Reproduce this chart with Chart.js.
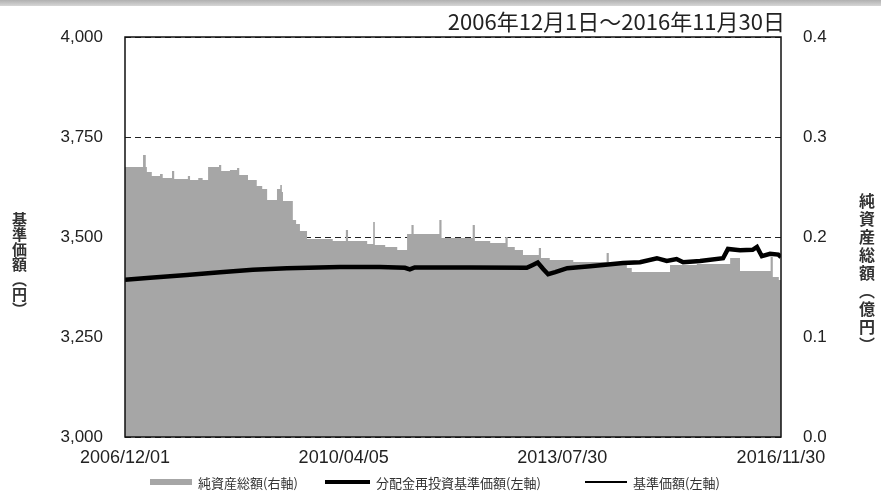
<!DOCTYPE html>
<html>
<head>
<meta charset="utf-8">
<script src="https://cdn.jsdelivr.net/npm/chart.js@4/dist/chart.umd.min.js"></script>
<style>
html,body{margin:0;padding:0;background:#fff;}
#wrap{position:relative;width:881px;height:494px;overflow:hidden;background:#fff;}
#topband{position:absolute;left:0;top:0;width:881px;height:6px;background:linear-gradient(#b0b0b0,#d6d6d6);}
#c{position:absolute;left:0;top:0;}
.vt{position:absolute;writing-mode:vertical-rl;font-family:"Noto Sans CJK JP";font-weight:bold;color:#333;line-height:1;}
#ttl{position:absolute;right:96px;top:4px;font-family:"Noto Sans CJK JP";font-size:22px;color:#222;white-space:nowrap;}
.lg{position:absolute;top:474px;font-family:"Noto Sans CJK JP";font-size:13px;color:#333;white-space:nowrap;display:flex;align-items:center;height:16px;}
.sw{display:inline-block;width:42px;margin-right:6px;}
</style>
</head>
<body>
<div id="wrap">
  <div id="topband"></div>
  <canvas id="c" width="881" height="494"></canvas>
  <div id="ttl">2006年12月1日～2016年11月30日</div>
  <div class="vt" style="left:12px;top:212px;font-size:15px;">基準価額（円）</div>
  <div class="vt" style="left:859px;top:193px;font-size:16px;letter-spacing:2px;">純資産総額（億円）</div>
  <div class="lg" style="left:150px;"><span class="sw" style="height:6px;background:#a6a6a6;"></span>純資産総額(右軸)</div>
  <div class="lg" style="left:325px;"><span class="sw" style="height:4px;background:#000;width:45px;"></span>分配金再投資基準価額(左軸)</div>
  <div class="lg" style="left:585px;"><span class="sw" style="height:1.5px;background:#000;"></span>基準価額(左軸)</div>
</div>
<script>
// x positions are months since 2006/12/01
const axisMonths = [0, 40, 80, 120];
const axisDates = ['2006/12/01', '2010/04/05', '2013/07/30', '2016/11/30'];
const leftTicks = [3000, 3250, 3500, 3750, 4000];
const rightTicks = [0, 0.1, 0.2, 0.3, 0.4];

// 純資産総額（億円） – step breakpoints
const assetMonths = [0, 3.3, 3.8, 4.0, 4.9, 6.4, 6.9, 8.6, 9.0, 11.5, 11.9, 13.4, 14.2, 15.2, 17.2, 17.6, 19.2, 20.5, 20.9, 22.5,
  24.1, 25.1, 26.0, 27.8, 28.4, 28.7, 28.9, 30.7, 31.3, 32.0, 33.3, 38.0, 40.4, 40.8, 44.3, 45.4, 45.7, 47.6, 49.8, 51.6,
  52.4, 52.8, 57.5, 57.9, 63.6, 64.0, 66.8, 69.6, 70.0, 71.3, 72.8, 75.7, 76.1, 77.7, 82.0, 88.1, 88.5, 91.8, 92.7, 99.7,
  104.6, 110.7, 112.5, 118.1, 118.5, 119.6, 120];
const assetValues = [0.270, 0.282, 0.270, 0.265, 0.261, 0.263, 0.259, 0.266, 0.258, 0.261, 0.257, 0.259, 0.257, 0.270, 0.272, 0.266, 0.267, 0.269, 0.262, 0.257,
  0.251, 0.248, 0.237, 0.248, 0.252, 0.245, 0.236, 0.217, 0.213, 0.206, 0.198, 0.196, 0.207, 0.196, 0.193, 0.215, 0.192, 0.190, 0.187, 0.203,
  0.212, 0.203, 0.217, 0.199, 0.212, 0.196, 0.194, 0.200, 0.190, 0.187, 0.182, 0.189, 0.179, 0.177, 0.175, 0.184, 0.173, 0.169, 0.165, 0.172,
  0.173, 0.179, 0.166, 0.180, 0.160, 0.157, 0.157];

// 基準価額 / 分配金再投資基準価額（円）
const navMonths = [0, 4.6, 11.3, 17.4, 23.4, 29.6, 39.3, 46.6, 51.2, 52.1, 53.0, 63.1, 73.5, 74.6, 75.5, 76.5, 77.4, 78.7, 80.9, 85.1,
  91.1, 94.2, 97.3, 99.1, 100.9, 102.1, 105.2, 109.4, 110.3, 112.5, 114.8, 115.6, 116.5, 118.0, 119.5, 120];
const reinvestNav = [3393, 3398, 3405, 3412, 3418, 3422, 3425, 3425, 3423, 3419, 3424, 3424, 3423, 3430, 3436, 3420, 3407, 3412, 3422, 3427,
  3435, 3437, 3447, 3440, 3445, 3437, 3440, 3447, 3470, 3467, 3468, 3475, 3452, 3458, 3456, 3450];
const nav = [3393, 3398, 3405, 3412, 3418, 3422, 3425, 3425, 3423, 3419, 3424, 3424, 3423, 3430, 3436, 3420, 3407, 3412, 3422, 3427,
  3435, 3437, 3447, 3440, 3445, 3437, 3440, 3447, 3470, 3467, 3468, 3475, 3452, 3458, 3456, 3450];

const pts = (xs, ys) => xs.map((x, i) => ({x: x, y: ys[i]}));

const frame = {
  id: 'frame',
  afterDatasetsDraw(chart) {
    const a = chart.chartArea, ctx = chart.ctx;
    ctx.save();
    ctx.strokeStyle = '#111';
    ctx.lineWidth = 1.5;
    ctx.strokeRect(a.left, a.top, a.right - a.left, a.bottom - a.top);
    ctx.restore();
  }
};

const tickFont = {family: '"Liberation Sans", Arial, sans-serif', size: 17};

new Chart(document.getElementById('c'), {
  type: 'line',
  data: {
    datasets: [
      {label: '分配金再投資基準価額(左軸)', data: pts(navMonths, reinvestNav), yAxisID: 'y', borderColor: '#000', borderWidth: 4.5,
        pointRadius: 0, tension: 0, fill: false, order: 1},
      {label: '基準価額(左軸)', data: pts(navMonths, nav), yAxisID: 'y', borderColor: '#000', borderWidth: 1,
        pointRadius: 0, tension: 0, fill: false, order: 2},
      {label: '純資産総額(右軸)', data: pts(assetMonths, assetValues), yAxisID: 'y2', borderWidth: 0, borderColor: 'rgba(0,0,0,0)',
        backgroundColor: '#a6a6a6', fill: 'origin', stepped: true, pointRadius: 0, order: 3}
    ]
  },
  options: {
    responsive: false,
    animation: false,
    events: [],
    layout: {padding: {top: 37, left: 0, right: 0, bottom: 0}},
    plugins: {legend: {display: false}, tooltip: {enabled: false}},
    scales: {
      x: {
        type: 'linear', min: 0, max: 120,
        afterBuildTicks: s => { s.ticks = axisMonths.map(v => ({value: v})); },
        afterFit: s => { s.height = 57; },
        grid: {display: false, drawTicks: false},
        border: {display: false},
        ticks: {autoSkip: false, maxRotation: 0, padding: 10, color: '#222', font: {family: '"Liberation Sans", Arial, sans-serif', size: 18},
          callback: v => axisDates[axisMonths.indexOf(v)]}
      },
      y: {
        position: 'left', min: 3000, max: 4000,
        afterBuildTicks: s => { s.ticks = leftTicks.map(v => ({value: v})); },
        afterFit: s => { s.width = 125; },
        grid: {color: '#222', lineWidth: 1, drawTicks: false},
        border: {display: false, dash: [6, 4]},
        ticks: {padding: 22, color: '#222', font: tickFont, callback: v => v.toLocaleString('en-US')}
      },
      y2: {
        position: 'right', min: 0, max: 0.4,
        afterBuildTicks: s => { s.ticks = rightTicks.map(v => ({value: v})); },
        afterFit: s => { s.width = 100; },
        grid: {display: false, drawTicks: false},
        border: {display: false},
        ticks: {padding: 22, color: '#222', font: tickFont, callback: v => v.toFixed(1)}
      }
    }
  },
  plugins: [frame]
});
</script>
</body>
</html>
